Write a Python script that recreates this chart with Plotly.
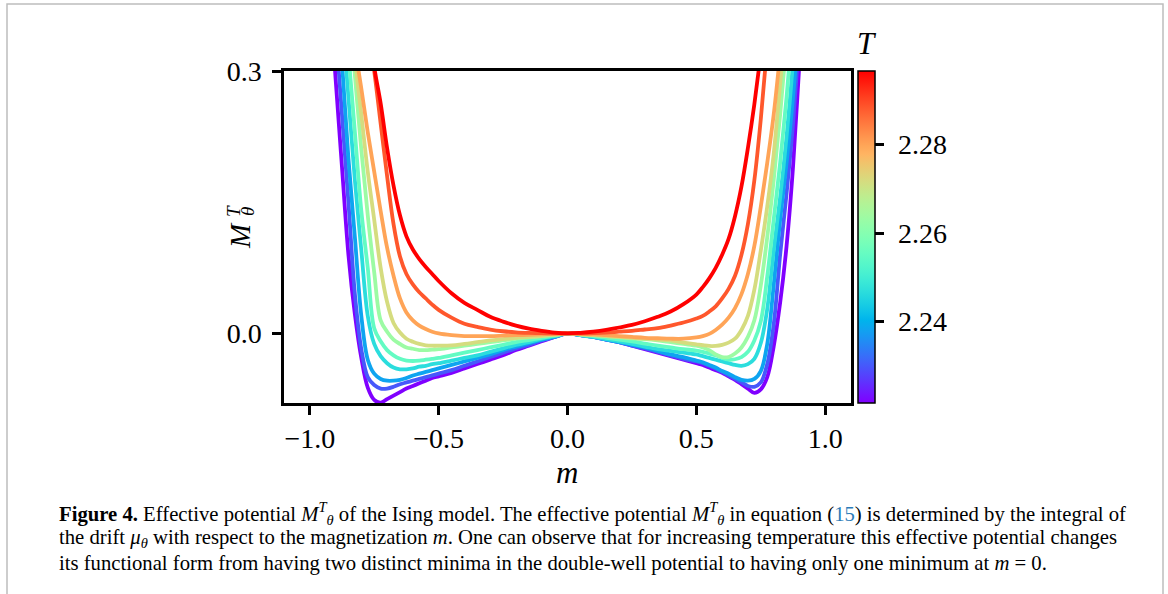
import numpy as np
import plotly.graph_objects as go

# ---------------- data ----------------
m_grid = [-0.925, -0.90, -0.875, -0.85, -0.825, -0.80, -0.775, -0.75, -0.725, -0.70, -0.675, -0.65,
          -0.625, -0.60, -0.575, -0.55, -0.525, -0.50, -0.45, -0.40, -0.35, -0.30, -0.25, -0.20,
          -0.15, -0.10, -0.05, 0.0,
          0.05, 0.10, 0.15, 0.20, 0.25, 0.30, 0.35, 0.40, 0.45, 0.50, 0.525, 0.55, 0.575, 0.60,
          0.625, 0.65, 0.675, 0.70, 0.725, 0.75, 0.775, 0.80, 0.825, 0.85, 0.875, 0.90, 0.925]

T_values = [2.2215, 2.2299, 2.2382, 2.2466, 2.2549, 2.2633, 2.2717, 2.2800, 2.2884, 2.2967]

M_T0 = [0.40, 0.292, 0.19, 0.09, 0.022, -0.028, -0.062, -0.076, -0.079, -0.075, -0.071, -0.067,
        -0.063, -0.060, -0.057, -0.054, -0.051, -0.049, -0.045, -0.040, -0.035, -0.030, -0.025, -0.019,
        -0.014, -0.009, -0.004, 0.0,
        -0.002, -0.004, -0.007, -0.010, -0.014, -0.018, -0.022, -0.026, -0.030, -0.034, -0.036, -0.039,
        -0.042, -0.045, -0.049, -0.053, -0.058, -0.063, -0.068, -0.064, -0.050, -0.015, 0.035, 0.10,
        0.19, 0.31, 0.43]
M_T1 = [0.46, 0.35, 0.25, 0.15, 0.045, -0.018, -0.050, -0.059, -0.063, -0.063, -0.061, -0.058,
        -0.056, -0.054, -0.052, -0.050, -0.048, -0.046, -0.042, -0.037, -0.032, -0.027, -0.022, -0.017,
        -0.013, -0.008, -0.004, 0.0,
        -0.002, -0.004, -0.007, -0.010, -0.014, -0.017, -0.021, -0.025, -0.029, -0.032, -0.034, -0.037,
        -0.040, -0.044, -0.048, -0.052, -0.056, -0.060, -0.061, -0.056, -0.035, 0.010, 0.09, 0.16,
        0.24, 0.34, 0.46]
M_T2 = [0.52, 0.41, 0.31, 0.20, 0.11, 0.02, -0.030, -0.046, -0.052, -0.054, -0.054, -0.053,
        -0.051, -0.048, -0.046, -0.044, -0.042, -0.040, -0.036, -0.032, -0.028, -0.024, -0.019, -0.015,
        -0.011, -0.007, -0.004, 0.0,
        -0.002, -0.004, -0.007, -0.010, -0.013, -0.016, -0.020, -0.024, -0.027, -0.031, -0.033, -0.036,
        -0.039, -0.043, -0.046, -0.050, -0.053, -0.054, -0.052, -0.043, -0.012, 0.055, 0.13, 0.195,
        0.27, 0.365, 0.49]
M_T3 = [0.56, 0.46, 0.365, 0.27, 0.175, 0.095, 0.02, -0.012, -0.026, -0.034, -0.039, -0.041,
        -0.041, -0.040, -0.038, -0.037, -0.035, -0.034, -0.031, -0.028, -0.025, -0.021, -0.017, -0.013,
        -0.010, -0.006, -0.003, 0.0,
        -0.002, -0.004, -0.0065, -0.009, -0.012, -0.015, -0.018, -0.020, -0.022, -0.024, -0.026, -0.028,
        -0.030, -0.032, -0.034, -0.036, -0.037, -0.035, -0.029, -0.011, 0.028, 0.095, 0.155, 0.225,
        0.31, 0.42, 0.53]
M_T4 = [0.62, 0.50, 0.40, 0.32, 0.23, 0.14, 0.075, 0.006, -0.009, -0.019, -0.025, -0.029,
        -0.031, -0.0315, -0.031, -0.030, -0.029, -0.028, -0.025, -0.022, -0.019, -0.016, -0.013, -0.010,
        -0.0075, -0.005, -0.0025, 0.0,
        -0.0015, -0.003, -0.005, -0.007, -0.009, -0.0115, -0.014, -0.016, -0.018, -0.0195, -0.021, -0.023,
        -0.025, -0.028, -0.030, -0.0295, -0.027, -0.021, -0.008, 0.014, 0.065, 0.13, 0.195, 0.27,
        0.36, 0.45, 0.55]
M_T5 = [0.68, 0.56, 0.46, 0.38, 0.295, 0.21, 0.135, 0.07, 0.015, 0.002, -0.007, -0.012,
        -0.016, -0.0175, -0.019, -0.019, -0.0185, -0.018, -0.016, -0.014, -0.012, -0.010, -0.008, -0.006,
        -0.0045, -0.003, -0.0015, 0.0,
        -0.001, -0.002, -0.003, -0.0045, -0.0055, -0.0065, -0.008, -0.010, -0.012, -0.014, -0.016, -0.019,
        -0.024, -0.027, -0.027, -0.023, -0.016, -0.004, 0.015, 0.055, 0.11, 0.175, 0.25, 0.335,
        0.425, 0.51, 0.60]
M_T6 = [0.72, 0.60, 0.49, 0.40, 0.315, 0.25, 0.185, 0.13, 0.075, 0.036, 0.012, 0.001,
        -0.006, -0.0095, -0.012, -0.0135, -0.014, -0.014, -0.0137, -0.012, -0.010, -0.008, -0.0065, -0.005,
        -0.004, -0.003, -0.0015, 0.0,
        -0.001, -0.002, -0.003, -0.004, -0.005, -0.006, -0.007, -0.008, -0.0105, -0.0125, -0.0135, -0.0143,
        -0.0142, -0.013, -0.0105, -0.006, 0.004, 0.02, 0.05, 0.095, 0.145, 0.205, 0.285, 0.37,
        0.45, 0.53, 0.62]
M_T7 = [0.76, 0.63, 0.52, 0.42, 0.33, 0.28, 0.23, 0.185, 0.14, 0.098, 0.066, 0.040,
        0.024, 0.015, 0.009, 0.005, 0.002, 0.0, -0.002, -0.003, -0.003, -0.003, -0.0025, -0.002,
        -0.0015, -0.001, -0.0005, 0.0,
        -0.0005, -0.001, -0.002, -0.003, -0.004, -0.005, -0.0055, -0.006, -0.006, -0.0045, -0.003, -0.0005,
        0.004, 0.010, 0.018, 0.029, 0.045, 0.068, 0.10, 0.145, 0.195, 0.25, 0.32, 0.40,
        0.49, 0.58, 0.68]
M_T8 = [0.85, 0.72, 0.61, 0.52, 0.45, 0.40, 0.35, 0.30, 0.24, 0.18, 0.125, 0.088,
        0.068, 0.056, 0.047, 0.040, 0.033, 0.027, 0.018, 0.011, 0.0075, 0.0045, 0.0025, 0.0012,
        0.0006, 0.0003, 0.0001, 0.0,
        0.0001, 0.0004, 0.001, 0.002, 0.003, 0.0045, 0.006, 0.009, 0.0125, 0.017, 0.020, 0.025,
        0.031, 0.040, 0.051, 0.066, 0.090, 0.125, 0.175, 0.245, 0.33, 0.42, 0.51, 0.60,
        0.70, 0.79, 0.88]
M_T9 = [0.95, 0.82, 0.70, 0.60, 0.52, 0.44, 0.37, 0.305, 0.263, 0.212, 0.169, 0.135,
        0.111, 0.096, 0.085, 0.076, 0.068, 0.060, 0.046, 0.035, 0.027, 0.019, 0.0135, 0.009,
        0.0055, 0.003, 0.001, 0.0,
        0.0007, 0.002, 0.004, 0.0068, 0.0098, 0.014, 0.019, 0.025, 0.0335, 0.0445, 0.053, 0.063,
        0.075, 0.090, 0.108, 0.134, 0.168, 0.212, 0.262, 0.32, 0.38, 0.445, 0.54, 0.64,
        0.75, 0.86, 0.98]

curves = [M_T0, M_T1, M_T2, M_T3, M_T4, M_T5, M_T6, M_T7, M_T8, M_T9]

x_ticks = [-1.0, -0.5, 0.0, 0.5, 1.0]
y_ticks = [0.0, 0.3]
cbar_ticks = [2.24, 2.26, 2.28]

# ---------------- layout geometry ----------------
W, H = 1168, 594
PL, PR, PT, PB = 284, 851, 71, 403
T_MIN, T_MAX = 2.2215, 2.2967
SERIF = "Liberation Serif, DejaVu Serif, serif"


def fx(px):
    return (px - PL) / (PR - PL)


def fy(py):
    return (PB - py) / (PB - PT)


def rainbow(x):
    r = min(1.0, abs(2 * x - 0.5))
    g = max(0.0, np.sin(np.pi * x))
    b = max(0.0, np.cos(np.pi * x / 2))
    return "rgb(%d,%d,%d)" % (round(255 * r), round(255 * g), round(255 * b))


fig = go.Figure()
for T, vals in zip(T_values, curves):
    c = rainbow((T - T_MIN) / (T_MAX - T_MIN))
    fig.add_trace(go.Scatter(x=m_grid, y=vals, mode="lines",
                             line=dict(color=c, width=3.8, shape="spline", smoothing=1.0),
                             showlegend=False, hoverinfo="skip"))

cscale = [[i / 40, rainbow(i / 40)] for i in range(41)]
fig.add_trace(go.Scatter(
    x=[None], y=[None], mode="markers", showlegend=False, hoverinfo="skip",
    marker=dict(color=[T_MIN], cmin=T_MIN, cmax=T_MAX, colorscale=cscale, showscale=True,
                colorbar=dict(x=fx(858), xanchor="left", xpad=0, ypad=0, y=0.5, yanchor="middle",
                              len=1.0, lenmode="fraction", thickness=17, thicknessmode="pixels",
                              outlinewidth=1.5, outlinecolor="black",
                              ticks="outside", ticklen=9, tickwidth=2.5, tickcolor="black",
                              tickvals=cbar_ticks, showticklabels=False))))

axis_common = dict(showline=True, mirror=True, linecolor="black", linewidth=2.5,
                   ticks="outside", ticklen=9, tickwidth=2.5, tickcolor="black",
                   showgrid=False, zeroline=False,
                   tickfont=dict(family=SERIF, size=28, color="black"), tickformat=".1f")

fig.update_layout(
    width=W, height=H,
    margin=dict(l=PL, r=W - PR, t=PT, b=H - PB, pad=0),
    paper_bgcolor="white", plot_bgcolor="white",
    xaxis=dict(range=[-1.1, 1.1], tickvals=x_ticks, **axis_common),
    yaxis=dict(range=[-0.0795, 0.3], tickvals=y_ticks, ticklabelstandoff=5, **axis_common),
)

ann = []
# colorbar tick labels
for v in cbar_ticks:
    ann.append(dict(x=fx(896), y=(v - T_MIN) / (T_MAX - T_MIN), text="%.2f" % v, xanchor="left",
                    font=dict(family=SERIF, size=28, color="black")))
# axis labels
ann.append(dict(x=fx(567), y=fy(472), text="<i>m</i>", font=dict(family=SERIF, size=31, color="black")))
ann.append(dict(x=fx(240), y=fy(236), text="<i>M</i>", textangle=-90,
                font=dict(family=SERIF, size=29, color="black")))
ann.append(dict(x=fx(233), y=fy(211), text="<i>T</i>", textangle=-90,
                font=dict(family=SERIF, size=19, color="black")))
ann.append(dict(x=fx(248), y=fy(212), text="<i>θ</i>", textangle=-90,
                font=dict(family=SERIF, size=19, color="black")))
# colorbar title
ann.append(dict(x=fx(867), y=fy(43), text="<i>T</i>", font=dict(family=SERIF, size=31, color="black")))

Mth = "<i>M</i><sup><i>T</i></sup><sub><i>θ</i></sub>"
cap = [
    "<b>Figure 4.</b> Effective potential " + Mth + " of the Ising model. The effective potential " + Mth +
    " in equation (<span style='color:#2b7bb9'>15</span>) is determined by the integral of",
    "the drift <i>μ</i><sub><i>θ</i></sub> with respect to the magnetization <i>m</i>. "
    "One can observe that for increasing temperature this effective potential changes",
    "its functional form from having two distinct minima in the double-well potential to having only one minimum at <i>m</i> = 0.",
]
for i, line in enumerate(cap):
    ann.append(dict(x=fx(57), y=fy(513 + 25 * i), text=line, xanchor="left",
                    font=dict(family=SERIF, size=20.7, color="black")))

for a in ann:
    a.setdefault("xanchor", "center")
    a.update(xref="paper", yref="paper", yanchor="middle", showarrow=False)
fig.update_layout(annotations=ann)

# light grey frame around the figure panel (open at the bottom)
x0, x1, yt = fx(7), fx(1163), fy(4)
yb = fy(600)
fig.add_shape(type="path", xref="paper", yref="paper",
              path="M %f,%f L %f,%f L %f,%f L %f,%f" % (x0, yb, x0, yt, x1, yt, x1, yb),
              line=dict(color="#bdbdbd", width=1.5), layer="above")

fig.write_html("out.html", config={"displayModeBar": False})
